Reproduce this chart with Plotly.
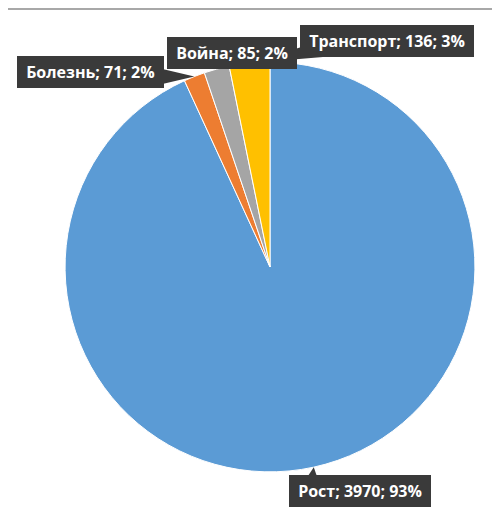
import math
import plotly.graph_objects as go

categories = ["Рост", "Болезнь", "Война", "Транспорт"]
values = [3970, 71, 85, 136]
colors = ["#5B9BD5", "#ED7D31", "#A5A5A5", "#FFC000"]

W, H = 500, 512
dom_x = [0.114, 0.934]
dom_y = [0.094, 0.8945]

fig = go.Figure(go.Pie(
    labels=categories, values=values, sort=False, direction="clockwise",
    rotation=0, marker=dict(colors=colors, line=dict(color="white", width=1)),
    textinfo="none", hoverinfo="label+value+percent", showlegend=False,
    domain=dict(x=dom_x, y=dom_y),
))

# pie geometry in pixels (from domain)
cx = (dom_x[0] + dom_x[1]) / 2 * W
cy = (1 - (dom_y[0] + dom_y[1]) / 2) * H
r = min((dom_x[1] - dom_x[0]) * W, (dom_y[1] - dom_y[0]) * H) / 2

total = sum(values)
# label box offset from slice edge point, and pointer base offset
box_off = {"Рост": (46, 24), "Болезнь": (-104, -4), "Война": (15, -16), "Транспорт": (138, -22)}
ptr_off = {"Рост": (-2, 16), "Болезнь": (-34, 0), "Война": (-4, -9), "Транспорт": (72, -14)}
half_w = 8

def to_paper(x, y):
    return x / W, 1 - y / H

cum = 0
shapes, boxes = [], []
for cat, v in zip(categories, values):
    mid = (cum + v / 2) / total * 2 * math.pi
    cum += v
    px = cx + r * math.sin(mid)
    py = cy - r * math.cos(mid)
    pct = round(v / total * 100)
    bx, by = box_off[cat]
    pax, pay = ptr_off[cat]
    L = math.hypot(pax, pay)
    nx, ny = -pay / L, pax / L
    p1 = to_paper(px + pax + half_w * nx, py + pay + half_w * ny)
    p2 = to_paper(px + pax - half_w * nx, py + pay - half_w * ny)
    a = to_paper(px, py)
    shapes.append(dict(
        type="path", xref="paper", yref="paper",
        path=f"M {a[0]} {a[1]} L {p1[0]} {p1[1]} L {p2[0]} {p2[1]} Z",
        fillcolor="#3a3a3a", line=dict(width=0), layer="above",
    ))
    b = to_paper(px + bx, py + by)
    boxes.append(dict(
        x=b[0], y=b[1], xref="paper", yref="paper", xanchor="center", yanchor="middle",
        text=f"&nbsp;<b>{cat}; {v}; {pct}%</b>&nbsp;", showarrow=False,
        bgcolor="#3a3a3a", bordercolor="#3a3a3a", borderpad=4,
        font=dict(family="Open Sans", size=16, color="white"),
    ))

shapes.append(dict(type="line", xref="paper", yref="paper", x0=0.0, x1=1.0,
                   y0=1 - 1 / H, y1=1 - 1 / H, line=dict(color="#A8A8A8", width=2)))

fig.update_layout(
    width=W, height=H, margin=dict(l=0, r=0, t=0, b=0),
    paper_bgcolor="white", plot_bgcolor="white",
    annotations=boxes, shapes=shapes,
)

fig.write_html("out.html")
